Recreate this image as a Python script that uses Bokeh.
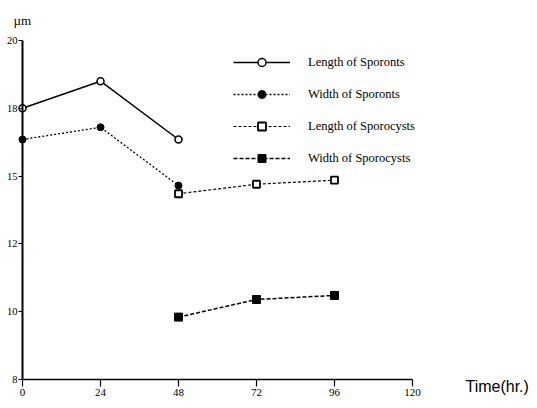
from bokeh.plotting import figure
from bokeh.models import Range1d, Legend, LegendItem, Label, FixedTicker
from bokeh.embed import file_html
from bokeh.resources import INLINE

# Data (y values on a linear scale whose ticks every 2.5 are labelled 8,10,12,15,18,20)
time_sporonts = [0, 24, 48]
length_sporonts = [17.5, 18.5, 16.35]
width_sporonts = [16.35, 16.8, 14.65]
time_sporocysts = [48, 72, 96]
length_sporocysts = [14.35, 14.7, 14.85]
width_sporocysts = [9.8, 10.45, 10.6]

x_ticks = [0, 24, 48, 72, 96, 120]
y_ticks = [7.5, 10, 12.5, 15, 17.5, 20]
y_tick_labels = ["8", "10", "12", "15", "18", "20"]

W, H = 535, 406
p = figure(width=W, height=H, output_backend="svg", toolbar_location=None,
           x_range=Range1d(-22 / 3.25, (W - 22) / 3.25),
           y_range=Range1d(7.5 - (H - 379) / 27.12, 20 + 40 / 27.12),
           min_border=0)
p.outline_line_color = None
p.xgrid.visible = False
p.ygrid.visible = False
p.background_fill_color = "white"
p.border_fill_color = "white"

serif = "Liberation Serif"

# Axes drawn inside the frame at fixed positions
p.xaxis.fixed_location = 7.5
p.yaxis.fixed_location = 0
p.xaxis.bounds = (0, 120)
p.yaxis.bounds = (7.5, 20)

p.xaxis.ticker = FixedTicker(ticks=x_ticks)
p.xaxis.minor_tick_line_color = None
p.xaxis.major_tick_in = 0
p.xaxis.major_tick_out = 7
p.xaxis.major_label_standoff = 2
p.xaxis.axis_line_width = 1.5
p.xaxis.major_tick_line_width = 1.2
p.xaxis.major_label_text_font = serif
p.xaxis.major_label_text_font_size = "11px"
p.xaxis.major_label_text_color = "black"

p.yaxis.ticker = FixedTicker(ticks=y_ticks)
p.yaxis.major_label_overrides = {t: l for t, l in zip(y_ticks, y_tick_labels)}
p.yaxis.minor_tick_line_color = None
p.yaxis.major_tick_in = 0
p.yaxis.major_tick_out = 4
p.yaxis.major_label_standoff = 1
p.yaxis.axis_line_width = 2
p.yaxis.major_tick_line_width = 1.2
p.yaxis.major_label_text_font = serif
p.yaxis.major_label_text_font_size = "10.5px"
p.yaxis.major_label_text_color = "black"

# Series
l1 = p.line(time_sporonts, length_sporonts, line_color="black", line_width=1.5)
m1 = p.scatter(time_sporonts, length_sporonts, marker="circle", size=7,
               fill_color="white", line_color="black", line_width=1.5)
l2 = p.line(time_sporonts, width_sporonts, line_color="black", line_width=1.3, line_dash="2 2")
m2 = p.scatter(time_sporonts, width_sporonts, marker="circle", size=7,
               fill_color="black", line_color="black")
l3 = p.line(time_sporocysts, length_sporocysts, line_color="black", line_width=1.2, line_dash="3 2")
m3 = p.scatter(time_sporocysts, length_sporocysts, marker="square", size=7,
               fill_color="white", line_color="black", line_width=1.8)
l4 = p.line(time_sporocysts, width_sporocysts, line_color="black", line_width=1.5, line_dash="4 2")
m4 = p.scatter(time_sporocysts, width_sporocysts, marker="square", size=8,
               fill_color="black", line_color="black")

legend = Legend(items=[
    LegendItem(label="Length of Sporonts", renderers=[l1, m1]),
    LegendItem(label="Width of Sporonts", renderers=[l2, m2]),
    LegendItem(label="Length of Sporocysts", renderers=[l3, m3]),
    LegendItem(label="Width of Sporocysts", renderers=[l4, m4]),
], location=(233, H - 168))
legend.border_line_color = None
legend.background_fill_alpha = 0
legend.padding = 0
legend.margin = 0
legend.glyph_width = 57
legend.glyph_height = 20
legend.spacing = 12
legend.label_standoff = 18
legend.label_text_font = serif
legend.label_text_font_size = "12.5px"
legend.label_text_color = "black"
p.add_layout(legend, "center")

# Unit label above the y axis
p.add_layout(Label(x=-2.8, y=20.74, text="µm", text_font=serif, text_font_size="13px",
                   text_baseline="middle", text_align="left", text_color="black"))

# X axis title to the right of the axis end
p.add_layout(Label(x=136.3, y=7.25, text="Time(hr.)", text_font="Liberation Sans",
                   text_font_size="16px", text_baseline="middle", text_color="black"))

open("out.html", "w").write(file_html(p, INLINE))
